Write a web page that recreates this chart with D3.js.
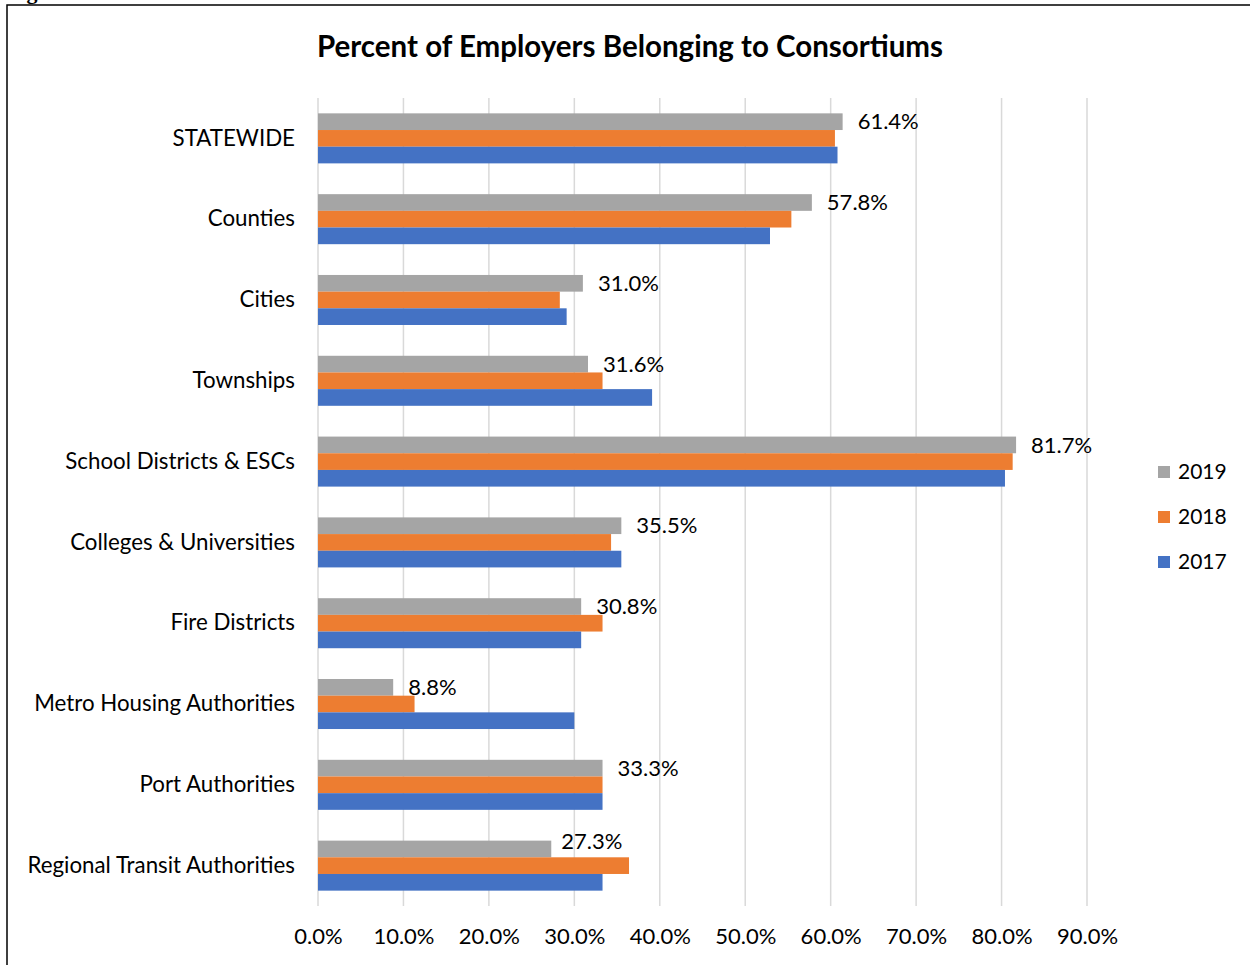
<!DOCTYPE html>
<html>
<head>
<meta charset="utf-8">
<script src="https://cdn.jsdelivr.net/npm/d3@7"></script>
<style>
  html, body { margin: 0; padding: 0; background: #fff; }
  svg { display: block; }
  text { font-family: Lato, "Open Sans", sans-serif; fill: #000; }
</style>
</head>
<body>
<svg id="chart" width="1250" height="965"></svg>
<script>
const categories = ["STATEWIDE", "Counties", "Cities", "Townships", "School Districts & ESCs",
  "Colleges & Universities", "Fire Districts", "Metro Housing Authorities", "Port Authorities",
  "Regional Transit Authorities"];
const seriesNames = ["2019", "2018", "2017"];
const values2019 = [61.4, 57.8, 31.0, 31.6, 81.7, 35.5, 30.8, 8.8, 33.3, 27.3];
const values2018 = [60.5, 55.4, 28.3, 33.3, 81.3, 34.3, 33.3, 11.3, 33.3, 36.4];
const values2017 = [60.8, 52.9, 29.1, 39.1, 80.4, 35.5, 30.8, 30.0, 33.3, 33.3];
const xTicks = [0, 10, 20, 30, 40, 50, 60, 70, 80, 90];
const colors = ["#A5A5A5", "#ED7D31", "#4472C4"];
const titleText = "Percent of Employers Belonging to Consortiums";

const seriesValues = [values2019, values2018, values2017];

const svg = d3.select("#chart");

// page frame and cut-off caption above
svg.append("text").attr("x", 7).attr("y", -1)
  .style("font-family", "'Liberation Serif', serif").style("font-weight", "bold")
  .style("font-size", "22px").text("Figure");
svg.append("rect").attr("x", 7).attr("y", 5).attr("width", 1300).attr("height", 1000)
  .attr("fill", "none").attr("stroke", "#000").attr("stroke-width", 1.5);

const x = d3.scaleLinear().domain([0, 90]).range([318, 1087]);
const y = d3.scaleBand().domain(categories).range([98, 906]).paddingInner(0.381).paddingOuter(0.19);
const ySub = d3.scaleBand().domain(seriesNames).range([0, y.bandwidth()]);

// title
svg.append("text").attr("x", 630).attr("y", 57).attr("text-anchor", "middle")
  .style("font-weight", "bold").style("font-size", "29.5px").text(titleText);

// gridlines
svg.append("g").selectAll("line").data(xTicks).join("line")
  .attr("x1", d => x(d)).attr("x2", d => x(d))
  .attr("y1", 98).attr("y2", 906)
  .attr("stroke", "#d9d9d9").attr("stroke-width", 1.5);

// x axis labels
const xAxis = d3.axisBottom(x).tickValues(xTicks).tickSize(0).tickPadding(0)
  .tickFormat(d => d.toFixed(1) + "%");
const gx = svg.append("g").attr("transform", "translate(0,944)").call(xAxis);
gx.select(".domain").remove();
gx.selectAll("text").attr("dy", 0).style("font-size", "22px").style("font-family", "Lato, sans-serif");

// category labels
const yAxis = d3.axisLeft(y).tickSize(0).tickPadding(0);
const gy = svg.append("g").attr("transform", "translate(295,0)").call(yAxis);
gy.select(".domain").remove();
gy.selectAll("text").style("font-size", "22.3px").style("font-family", "Lato, sans-serif");

// bars
const groups = svg.append("g").selectAll("g").data(categories).join("g")
  .attr("transform", d => `translate(0,${y(d)})`);
seriesNames.forEach((s, si) => {
  groups.append("rect")
    .attr("x", x(0))
    .attr("y", ySub(s))
    .attr("width", (d, i) => x(seriesValues[si][i]) - x(0))
    .attr("height", ySub.bandwidth())
    .attr("fill", colors[si]);
});

// data labels for 2019 (last one sits a little higher and closer, as in the original)
const lastIdx = categories.length - 1;
groups.append("text")
  .attr("x", (d, i) => x(values2019[i]) + (i === lastIdx ? 10 : 15))
  .attr("y", (d, i) => ySub("2019") + ySub.bandwidth() / 2 - (i === lastIdx ? 8 : 0))
  .attr("dy", "0.35em")
  .style("font-size", "22px")
  .text((d, i) => values2019[i].toFixed(1) + "%");

// legend
const legend = svg.append("g").selectAll("g").data(seriesNames).join("g")
  .attr("transform", (d, i) => `translate(1158,${472 + i * 45})`);
legend.append("rect").attr("x", 0).attr("y", -6).attr("width", 12).attr("height", 12)
  .attr("fill", (d, i) => colors[i]);
legend.append("text").attr("x", 20).attr("y", 0).attr("dy", "0.35em")
  .style("font-size", "21px").text(d => d);
</script>
</body>
</html>
